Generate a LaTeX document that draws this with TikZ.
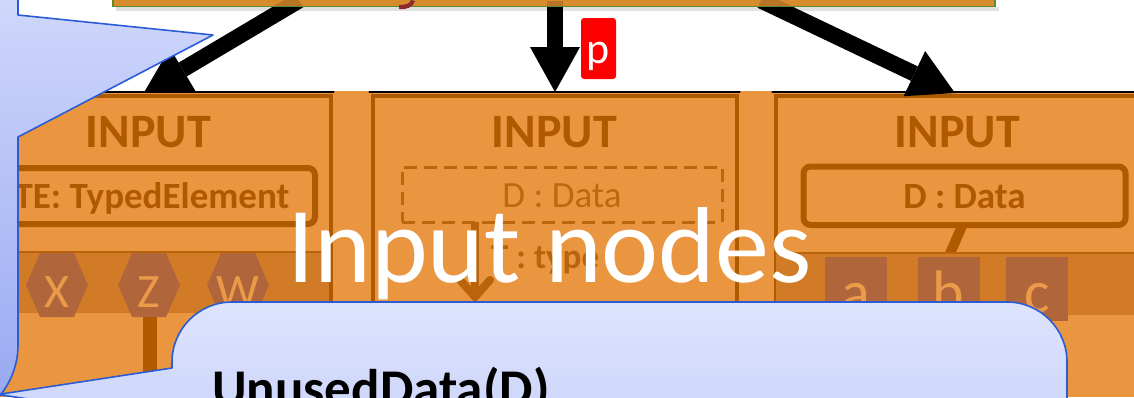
\documentclass[tikz,border=0pt]{standalone}
\usepackage{fontspec}
\setmainfont{Carlito}
\usetikzlibrary{arrows.meta}

\definecolor{boxorange}{HTML}{EA9540}
\definecolor{boxbrown}{HTML}{B05A00}
\definecolor{bandorange}{HTML}{D27B27}
\definecolor{chipbrown}{HTML}{B0663A}
\definecolor{barorange}{HTML}{D68B2C}
\definecolor{bargreen}{HTML}{5E8C2A}
\definecolor{calloutblue}{HTML}{2B5CD6}
\definecolor{labelred}{HTML}{FF0000}
\definecolor{fragred}{HTML}{8E2830}
\definecolor{noteTop}{HTML}{D2D9FB}
\definecolor{noteBottom}{HTML}{94A6F1}
\definecolor{bubbleTop}{HTML}{DEE3FD}
\definecolor{bubbleBottom}{HTML}{C9D3FA}

\tikzset{
  topbar/.style={fill=barorange, draw=bargreen, line width=1.5pt, inner sep=0, outer sep=0},
  inbox/.style={draw=boxbrown, line width=4pt, inner sep=0, outer sep=0},
  toprule/.style={draw=black, line width=2.5pt, line cap=round},
  bigarrow/.style={draw=black, line width=16pt, -{Triangle[length=45pt,width=50pt,line width=0pt]}},
  title/.style={anchor=base, inner sep=0, text=boxbrown, font=\bfseries\fontsize{48pt}{48pt}\selectfont},
  slot/.style={draw=boxbrown, line width=6pt, rounded corners=7pt, inner sep=0, outer sep=0},
  dashslot/.style={draw=boxbrown!80!boxorange, line width=3pt, dash pattern=on 13pt off 7pt, inner sep=0, outer sep=0},
  slotlabel/.style={anchor=base, inner sep=0, text=boxbrown, font=\bfseries\fontsize{37pt}{37pt}\selectfont},
  fadedlabel/.style={anchor=base, inner sep=0, text=boxbrown!75!boxorange, font=\fontsize{37pt}{37pt}\selectfont},
  fadedbold/.style={inner sep=0, text=boxbrown!85!boxorange, font=\bfseries\fontsize{35pt}{35pt}\selectfont},
  fadedarrow/.style={draw=boxbrown!85!boxorange, line width=8pt, -{Straight Barb[length=17pt,width=30pt,line cap=round]}},
  chip/.style={fill=chipbrown, inner sep=0, outer sep=0, minimum width=62pt, minimum height=64pt},
  chiplabel/.style={anchor=base, inner sep=0, text=boxorange!95!white, font=\fontsize{48pt}{48pt}\selectfont},
  portlabel/.style={anchor=base, inner sep=0, text=boxorange!95!white, font=\fontsize{60pt}{60pt}\selectfont},
  link/.style={draw=boxbrown, line width=10pt},
  callout/.style={draw=calloutblue, line width=1.6pt, line join=round},
}

\begin{document}
\begin{tikzpicture}[x=1pt,y=-1pt]
\useasboundingbox (0,0) rectangle (1134,397);
\clip (0,0) rectangle (1134,397);
\fill[white] (0,0) rectangle (1134,397);
\fill[boxorange] (0,91) rectangle (1134,397);

% producer bar along the top edge
\fill[black, opacity=0.12] (116,6.5) rectangle (999,10.5);
\node[topbar, anchor=south west, minimum width=882pt, minimum height=40pt] (bar) at (113,6.5) {};

% the three input boxes
\node[inbox, minimum width=364pt, minimum height=400pt, anchor=north] (box1) at (148.5,96) {};
\node[inbox, minimum width=364pt, minimum height=400pt, anchor=north] (box2) at (554.5,96) {};
\node[inbox, minimum width=364pt, minimum height=400pt, anchor=north] (box3) at (957.5,96) {};
\draw[toprule] ([shift={(-3,-4)}]box1.north west) -- ([shift={(3,-4)}]box1.north east);
\draw[toprule] ([shift={(-3,-4)}]box2.north west) -- ([shift={(3,-4)}]box2.north east);
\draw[toprule] ([shift={(-3,-4)}]box3.north west) -- ([shift={(3,-4)}]box3.north east);

% flows from the bar into the boxes
\draw[bigarrow] ([shift={(-255,-6)}]bar.south) -- ([shift={(-4.5,-3.5)}]box1.north);
\draw[bigarrow] ([shift={(1,-6)}]bar.south) -- ([shift={(0.5,-4)}]box2.north);
\draw[bigarrow] ([shift={(207,-6)}]bar.south) -- ([shift={(-2.5,-3)}]box3.north);

% bar drawn again over the arrow roots
\fill[barorange, opacity=0.85] (bar.south west) rectangle (bar.north east);
\draw[bargreen, line width=1.5pt] (bar.north west) -- (bar.south west) -- (bar.south east) -- (bar.north east);
\fill[fragred] (399,9) .. controls (407,10) and (413,7) .. (415,1) -- (411,0) .. controls (410,4) and (405,5) .. (399,5) -- cycle;

% box 1: typed element with its ports
\node[title] (in1) at (148.5,147) {INPUT};
\draw[boxbrown!85!boxorange, line width=2pt] (-31.5,252) -- (328.5,252);
\fill[bandorange] (-31.5,253) rectangle (328.5,313);
\node[slot, minimum width=323pt, minimum height=56pt] (te) at (153.5,196) {};
\node[slotlabel] (tetext) at (152,208) {TE: TypedElement};
\foreach \cx/\t/\n in {57/X/hx,149/Z/hz,238/W/hw}{
  \fill[chipbrown] (\cx-31,285) -- (\cx-17,253) -- (\cx+17,253) -- (\cx+31,285) -- (\cx+17,317) -- (\cx-17,317) -- cycle;
  \node[chiplabel] (\n) at (\cx,307) {\t};
}
\fill[boxbrown] (142.5,317) rectangle (156.5,400);

% box 2: optional data with derived type
\node[title] (in2) at (554.5,147) {INPUT};
\node[dashslot, minimum width=320pt, minimum height=55pt] (dd) at (562,194.5) {};
\node[fadedlabel] (ddtext) at (562,207) {D : Data};
\node[fadedbold, anchor=base west] (ttype) at (491,268) {T : type};
\coordinate (tend) at (475,303);
\draw[fadedarrow] ([xshift=-87pt]dd.south) -- (tend);

% box 3: data with its ports
\node[title] (in3) at (957.5,147) {INPUT};
\node[chip] (pa) at (856,289) {};
\node[chip] (pb) at (948.5,289) {};
\node[chip] (pc) at (1037,289) {};
\draw[link] (962,226) -- (pb.north);
\draw[boxbrown!85!boxorange, line width=2pt] (775.5,253) -- (1139.5,253);
\fill[bandorange] (775.5,254) rectangle (1139.5,315);
\node[chip] at (856,289) {};
\node[chip] at (948.5,289) {};
\node[chip] at (1037,289) {};
\node[portlabel] (la) at (856,312) {a};
\node[portlabel] (lb) at (948.5,312) {b};
\node[portlabel] (lc) at (1037,312) {c};
\node[slot, minimum width=322pt, minimum height=58.5pt] (d3) at (964.5,195.75) {};
\node[slotlabel] (d3text) at (964.5,208) {D : Data};

% caption
\node[anchor=base west, inner sep=0, text=white, font=\fontsize{108pt}{108pt}\selectfont] (caption) at (287,282) {Input nodes};

% edge label
\node[fill=labelred, rounded corners=3pt, minimum width=35pt, minimum height=61pt, inner sep=0] (pbox) at (598.5,48.5) {};
\node[anchor=base, inner sep=0, text=white, font=\fontsize{44pt}{44pt}\selectfont] (plabel) at (598.5,63) {p};

% left callout
\path[callout, top color=noteTop, bottom color=noteBottom]
  (-62,-20) -- (18,-20) -- (18,15) -- (213,35) -- (18,137) -- (18,345)
  .. controls (18,389) and (-18,425) .. (-62,425) -- cycle;

% bottom callout
\path[callout, top color=bubbleTop, bottom color=bubbleBottom]
  (172,368) -- (172,362) .. controls (172,328.9) and (198.9,302) .. (232,302)
  -- (1007,302) .. controls (1040.1,302) and (1067,328.9) .. (1067,362)
  -- (1067,440) -- (172,440) -- (172,420) -- (-2,394.5) -- cycle;
\node[anchor=base west, inner sep=0, text=black, font=\bfseries\fontsize{53pt}{53pt}\selectfont] (fn) at (212,406) {UnusedData(D)};
\end{tikzpicture}
\end{document}
